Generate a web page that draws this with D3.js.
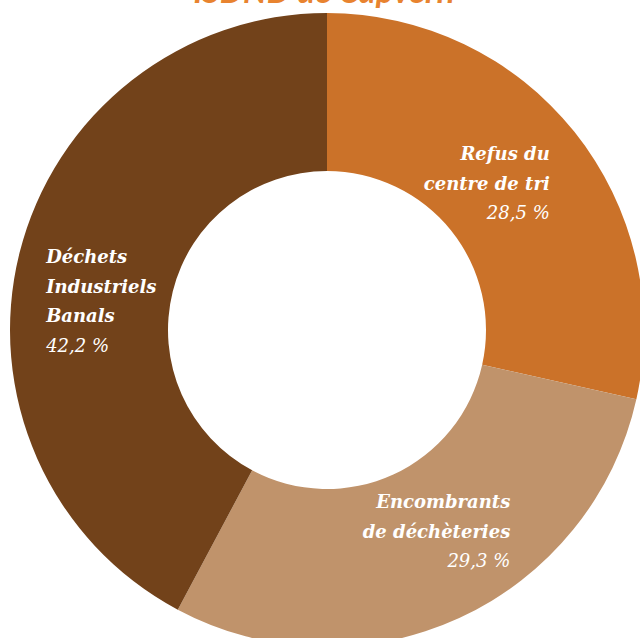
<!DOCTYPE html>
<html><head><meta charset="utf-8">
<script src="https://cdn.jsdelivr.net/npm/d3@7"></script>
<style>html,body{margin:0;padding:0;background:#fff;}svg{display:block;}</style>
</head><body>
<svg id="chart" width="640" height="638"></svg>
<script>
const title = "ISDND de Capvern";
const categories = ["Refus du centre de tri", "Encombrants de déchèteries", "Déchets Industriels Banals"];
const labelLines = [["Refus du", "centre de tri"], ["Encombrants", "de déchèteries"], ["Déchets", "Industriels", "Banals"]];
const values = [28.5, 29.3, 42.2];
const valueLabels = ["28,5 %", "29,3 %", "42,2 %"];
const colors = ["#cb7229", "#c0936b", "#72421a"];

const svg = d3.select("#chart");
const cx = 327, cy = 330, R = 317, r = 159;

svg.append("text").attr("x", 324).attr("y", 3).attr("text-anchor", "middle")
  .attr("font-family", "Lato, sans-serif").attr("font-weight", "bold").attr("font-style", "italic")
  .attr("font-size", 33).attr("fill", "#e8832f").text(title);

const pie = d3.pie().sort(null).value(d => d)(values);
const arc = d3.arc().innerRadius(r).outerRadius(R);
const g = svg.append("g").attr("transform", `translate(${cx},${cy})`);
g.selectAll("path").data(pie).join("path").attr("d", arc).attr("fill", (d, i) => colors[i]);

// label layout: offsets from each slice centroid
const lay = [
  {dx: 37, dy: -21, anchor: "end"},
  {dx: 84, dy: -38, anchor: "end"},
  {dx: -50, dy: -9, anchor: "start"}
];
const lh = 29.5;
pie.forEach((d, i) => {
  const c = arc.centroid(d);
  const x = c[0] + lay[i].dx;
  const t = g.append("text").attr("x", x).attr("y", c[1] + lay[i].dy)
    .attr("text-anchor", lay[i].anchor).attr("fill", "#fff")
    .attr("font-family", "'DejaVu Serif', serif").attr("font-style", "italic")
    .attr("font-size", 18);
  const lines = labelLines[i].concat([valueLabels[i]]);
  lines.forEach((ln, j) => {
    t.append("tspan").attr("x", x).attr("dy", j === 0 ? 0 : lh)
      .attr("font-weight", j === lines.length - 1 ? "normal" : "bold").text(ln);
  });
});
</script>
</body></html>
